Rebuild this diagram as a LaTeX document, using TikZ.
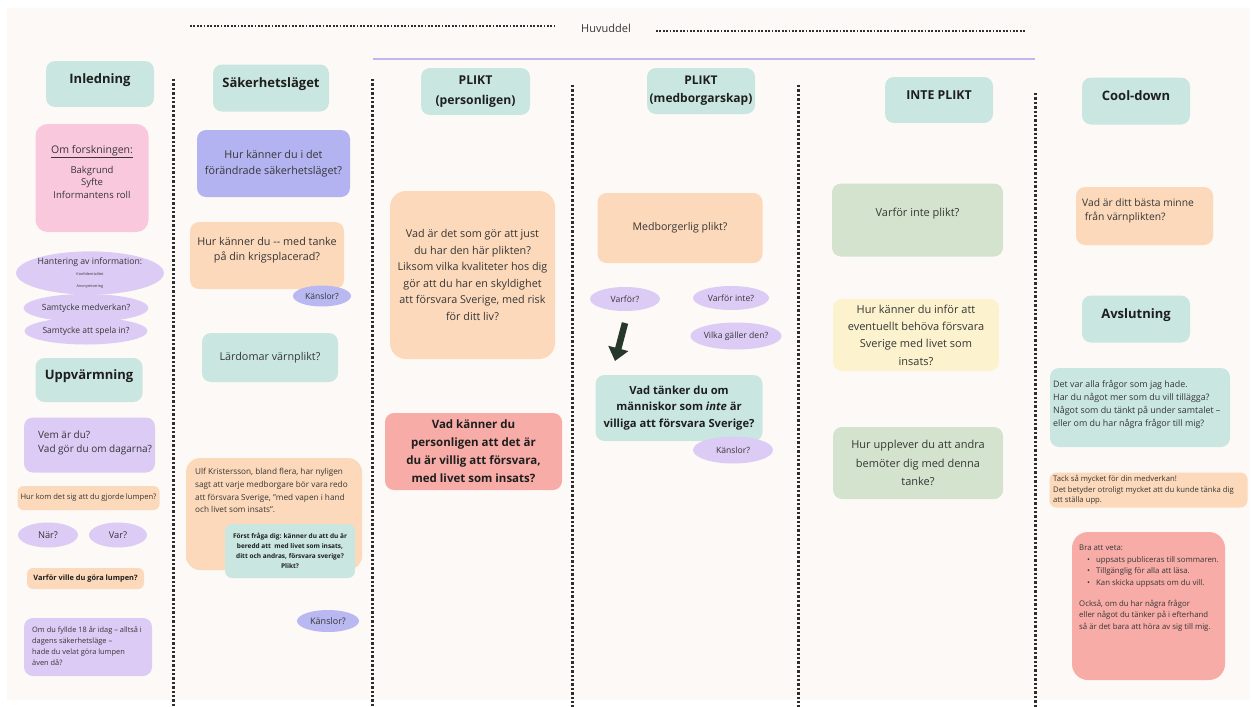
\documentclass[tikz,border=0pt]{standalone}
\usepackage{fontspec}
\setmainfont{Open Sans}
\usetikzlibrary{shapes.geometric,arrows.meta}
\definecolor{bg}{HTML}{FDF9F6}
\definecolor{teal}{HTML}{C9E7E0}
\definecolor{pink}{HTML}{F9C8DC}
\definecolor{lav}{HTML}{DCCBF5}
\definecolor{bluep}{HTML}{B4B3F1}
\definecolor{kblue}{HTML}{BAB8F1}
\definecolor{peach}{HTML}{FCD9BA}
\definecolor{salmon}{HTML}{F7ACA7}
\definecolor{sage}{HTML}{D4E3CE}
\definecolor{yell}{HTML}{FDF2CE}
\definecolor{linelav}{HTML}{BDB9EE}
\definecolor{dotc}{HTML}{2E2E2E}
\definecolor{arrowc}{HTML}{26382A}
\definecolor{txt}{HTML}{363636}
\definecolor{hdrtxt}{HTML}{1E1E1E}
\newcommand\fs[2]{\fontsize{#1pt}{#2pt}\selectfont}
\begin{document}
\begin{tikzpicture}[x=1pt,y=-1pt,
  every node/.style={text=txt},
  box/.style={rounded corners=9pt, inner sep=2pt, align=center},
  hdr/.style={box, fill=teal, minimum width=108pt, minimum height=46pt, font=\bfseries\fs{13}{16}, text=hdrtxt},
  hdrone/.style={hdr, text height=9pt, text depth=11pt},
  ell/.style={ellipse, inner sep=0pt, align=center},
  plain/.style={inner sep=0pt},
  vdots/.style={line width=3pt, dash pattern=on 2.4pt off 2pt, draw=dotc},
  hdots/.style={line width=2.4pt, dash pattern=on 1.8pt off 1.6pt, draw=dotc},
]
\useasboundingbox (0,0) rectangle (1256,707);
\fill[white] (0,0) rectangle (1256,707);
\fill[bg] (7,8) rectangle (1250,700);

% top header
\draw[hdots] (190,26) -- (555,26);
\node[plain, font=\fs{11}{12}] (huv) at (606,28) {Huvuddel};
\draw[hdots] (656,31) -- (1025,31);
\draw[linelav, line width=2.5pt] (373,59) -- (1035,59);

% column separators
\draw[vdots] (173,79) -- (173,707);
\draw[vdots] (372,79) -- (372,707);
\draw[vdots] (572,85) -- (572,707);
\draw[vdots] (798,85) -- (798,707);
\draw[vdots] (1035,93) -- (1035,707);

% ---------- column 1
\node[hdrone] (inl) at (100,84) {Inledning};
\node[box, fill=pink, minimum width=113pt, minimum height=108pt, rounded corners=12pt] (omf) at (92,178) {};
\node[plain, align=center, font=\fs{9.5}{12.8}] (omft) at (92,172)
  {{\fs{10.5}{12.8}\underline{Om forskningen:}}\\[7pt]Bakgrund\\Syfte\\Informantens roll};
\node[ell, fill=lav, minimum width=126pt, minimum height=40pt] (hant) at (90,273)
  {{\fs{8.7}{10}Hantering av information:}\\[-1pt]{\fs{3.8}{4.6}Konfidentialitet}\\{\fs{3.8}{4.6}Anonymisering}};
\node[ell, fill=lav, minimum width=112pt, minimum height=28pt, font=\fs{8.5}{10}] (sam1) at (86,308) {Samtycke medverkan?};
\node[ell, fill=lav, minimum width=112pt, minimum height=27pt, font=\fs{8.5}{10}] (sam2) at (86,331) {Samtycke att spela in?};
\node[hdrone, minimum width=107pt, minimum height=44pt] (upp) at (89,380) {Uppvärmning};
\node[box, fill=lav, minimum width=131pt, minimum height=55pt] (vem) at (89.5,445) {};
\node[plain, anchor=west, align=left, font=\fs{10}{13.5}] (vemt) at (38,443) {Vem är du?\\Vad gör du om dagarna?};
\node[box, fill=peach, minimum width=142pt, minimum height=24pt, rounded corners=6pt, font=\fs{7.6}{9}] (hkom) at (88.5,498) {Hur kom det sig att du gjorde lumpen?};
\node[ell, fill=lav, minimum width=60pt, minimum height=25pt, font=\fs{9.3}{10}] (nar) at (48,535) {När?};
\node[ell, fill=lav, minimum width=58pt, minimum height=25pt, font=\fs{9.3}{10}] (var) at (118,535) {Var?};
\node[box, fill=peach, minimum width=117pt, minimum height=21pt, rounded corners=6pt, font=\bfseries\fs{7.4}{9}, text=hdrtxt] (vv) at (85.5,578.5) {Varför ville du göra lumpen?};
\node[box, fill=lav, minimum width=128pt, minimum height=58pt] (omdu) at (88,647) {};
\node[plain, anchor=west, align=left, font=\fs{7.4}{11}] (omdut) at (32,646) {Om du fyllde 18 år idag – alltså i\\dagens säkerhetsläge –\\hade du velat göra lumpen\\även då?};

% ---------- column 2
\node[hdrone, minimum width=116pt, minimum height=47pt] (sak) at (271,88) {Säkerhetsläget};
\node[box, fill=bluep, minimum width=153pt, minimum height=67pt, font=\fs{10.8}{15.5}] (hk1) at (273.5,163.5) {Hur känner du i det\\förändrade säkerhetsläget?};
\node[box, fill=peach, minimum width=154pt, minimum height=67pt] (hk2) at (267,255.5) {};
\node[plain, align=center, font=\fs{10.8}{15.5}] (hk2t) at (267,250) {Hur känner du -{}- med tanke\\på din krigsplacerad?};
\node[ell, fill=kblue, minimum width=58pt, minimum height=21pt, font=\fs{8.5}{10}] (k1) at (322,296) {Känslor?};
\node[box, fill=teal, minimum width=136pt, minimum height=49pt, font=\fs{10.8}{13}] (lard) at (270,357.5) {Lärdomar värnplikt?};
\node[box, fill=peach, minimum width=176pt, minimum height=112pt, rounded corners=14pt] (ulf) at (274,514) {};
\node[plain, anchor=north west, align=left, font=\fs{8.2}{12.8}] (ulft) at (195,468) {Ulf Kristersson, bland flera, har nyligen\\sagt att varje medborgare bör vara redo\\att försvara Sverige, "med vapen i hand\\och livet som insats".};
\node[box, fill=teal, minimum width=130pt, minimum height=54pt, rounded corners=7pt, font=\bfseries\fs{6.5}{10.2}, text=hdrtxt] (forst) at (290,551) {Först fråga dig: känner du att du är\\beredd att~ med livet som insats,\\ditt och andras, försvara sverige?\\Plikt?};
\node[ell, fill=kblue, minimum width=62pt, minimum height=22pt, font=\fs{9}{10}] (k2) at (328,621) {Känslor?};

% ---------- column 3
\node[hdr, minimum width=109pt, minimum height=47pt, font=\bfseries\fs{12.2}{19.5}] (pp) at (475.5,91.5) {PLIKT\\(personligen)};
\node[box, fill=peach, minimum width=165pt, minimum height=168pt, rounded corners=16pt, font=\fs{10.8}{16.5}] (vad1) at (472.5,275) {Vad är det som gör att just\\du har den här plikten?\\Liksom vilka kvaliteter hos dig\\gör att du har en skyldighet\\att försvara Sverige, med risk\\för ditt liv?};
\node[box, fill=salmon, minimum width=177pt, minimum height=77pt, font=\bfseries\fs{11.5}{18}, text=hdrtxt] (vad2) at (473.5,451.5) {Vad känner du\\personligen att det är\\du är villig att försvara,\\med livet som insats?};

% ---------- column 4
\node[hdr, minimum width=108pt, minimum height=46pt, font=\bfseries\fs{12}{18}] (pm) at (701,91) {PLIKT\\(medborgarskap)};
\node[box, fill=peach, minimum width=165pt, minimum height=70pt, font=\fs{10.6}{13}] (medb) at (680,228) {Medborgerlig plikt?};
\node[ell, fill=lav, minimum width=70pt, minimum height=24pt, font=\fs{8.6}{10}] (vf) at (625,299) {Varför?};
\node[ell, fill=lav, minimum width=76pt, minimum height=24pt, font=\fs{8.6}{10}] (vfi) at (731,298) {Varför inte?};
\node[ell, fill=lav, minimum width=84pt, minimum height=27pt, font=\fs{8.6}{10}] (vilka) at (736,336) {Vilka gäller den?};
\coordinate (a1) at (625,323);
\coordinate (a2) at (615,361);
\draw[arrowc, line width=6.5pt, -{Triangle[width=20pt,length=13pt]}] (a1) -- (a2);
\node[box, fill=teal, minimum width=167pt, minimum height=66pt, font=\bfseries\fs{11.2}{16.5}, text=hdrtxt] (vadt) at (679,408) {Vad tänker du om\\människor som \textit{inte} är\\villiga att försvara Sverige?};
\node[ell, fill=lav, minimum width=80pt, minimum height=27pt, font=\fs{8.6}{10}] (k3) at (733,450) {Känslor?};

% ---------- column 5
\node[hdrone, minimum width=108pt, minimum height=46pt, font=\bfseries\fs{12.3}{14}] (ip) at (939,100) {INTE PLIKT};
\node[box, fill=sage, minimum width=171pt, minimum height=73pt] (vip) at (917.5,220) {};
\node[plain, font=\fs{11}{13}] (vipt) at (917.5,214) {Varför inte plikt?};
\node[box, fill=yell, minimum width=166pt, minimum height=72pt, font=\fs{11}{17.3}] (hki) at (916,335) {Hur känner du inför att\\eventuellt behöva försvara\\Sverige med livet som\\insats?};
\node[box, fill=sage, minimum width=170pt, minimum height=72pt, font=\fs{11}{18.5}] (hup) at (918,463) {Hur upplever du att andra\\bemöter dig med denna\\tanke?};

% ---------- column 6
\node[hdrone, minimum width=108pt, minimum height=47pt] (cd) at (1136,101) {Cool-down};
\node[box, fill=peach, minimum width=137pt, minimum height=58pt] (minne) at (1144.5,216) {};
\node[plain, anchor=west, align=left, font=\fs{10.3}{14.5}] (minnet) at (1082,211) {Vad är ditt bästa minne\\\ från värnplikten?};
\node[hdrone, minimum width=108pt, minimum height=47pt] (avs) at (1136,319) {Avslutning};
\node[box, fill=teal, minimum width=180pt, minimum height=79pt] (det) at (1140,407.5) {};
\node[plain, anchor=west, align=left, font=\fs{8.9}{13}] (dett) at (1053,404) {Det var alla frågor som jag hade.\\Har du något mer som du vill tillägga?\\Något som du tänkt på under samtalet –\\eller om du har några frågor till mig?};
\node[box, fill=peach, minimum width=198pt, minimum height=35pt, rounded corners=7pt] (tack) at (1148.5,490) {};
\node[plain, anchor=west, align=left, font=\fs{7.7}{10.5}] (tackt) at (1053,490) {Tack så mycket för din medverkan!\\Det betyder otroligt mycket att du kunde tänka dig\\att ställa upp.};
\node[box, fill=salmon, minimum width=153pt, minimum height=148pt, rounded corners=16pt] (bra) at (1148.5,606) {};
\node[plain, anchor=north west, align=left, font=\fs{7.8}{11.6}] (brat) at (1079,545) {Bra att veta:\\\hspace*{8pt}•\hspace{6pt}uppsats publiceras till sommaren.\\\hspace*{8pt}•\hspace{6pt}Tillgänglig för alla att läsa.\\\hspace*{8pt}•\hspace{6pt}Kan skicka uppsats om du vill.\\[9pt]Också, om du har några frågor\\eller något du tänker på i efterhand\\så är det bara att höra av sig till mig.};
\end{tikzpicture}
\end{document}
